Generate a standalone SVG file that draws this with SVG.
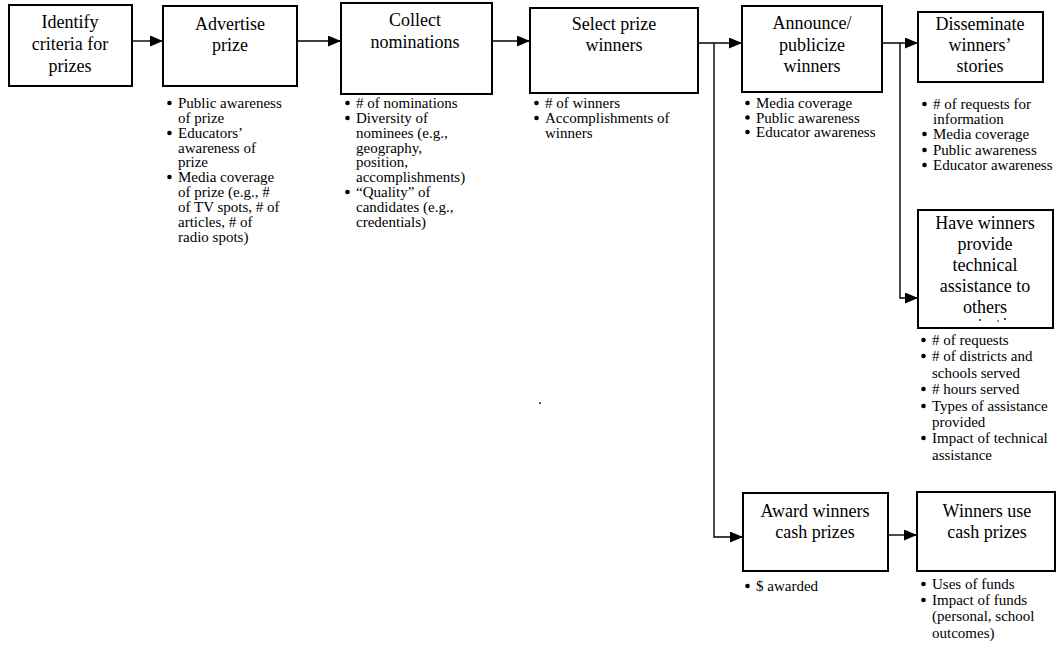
<svg xmlns="http://www.w3.org/2000/svg" width="1057" height="652" viewBox="0 0 1057 652">
<style>
.box{fill:#fff;stroke:#000;stroke-width:2}
.t{font-family:"Liberation Serif","Times New Roman",serif;font-size:18px;fill:#000;text-anchor:middle}
.b{font-family:"Liberation Serif","Times New Roman",serif;font-size:15px;fill:#000}
.c{fill:none;stroke:#000;stroke-width:1.4}
.dot{fill:#000}
</style>
<defs>
<marker id="ah" markerUnits="userSpaceOnUse" markerWidth="13" markerHeight="11" refX="13" refY="5.5" orient="auto">
<path d="M0,0 L13,5.5 L0,11 z" fill="#000"/>
</marker>
<circle id="bl" r="2.3" class="dot"/>
</defs>
<rect width="1057" height="652" fill="#fff"/>
<g id="connectors">
<path class="c" d="M132,41 H163" marker-end="url(#ah)"/>
<path class="c" d="M297,41 H341" marker-end="url(#ah)"/>
<path class="c" d="M492,41 H530" marker-end="url(#ah)"/>
<path class="c" d="M698,43 H742" marker-end="url(#ah)"/>
<path class="c" d="M714,43 V537 H743" marker-end="url(#ah)"/>
<path class="c" d="M882,43 H918" marker-end="url(#ah)"/>
<path class="c" d="M900,43 V298 H918" marker-end="url(#ah)"/>
<path class="c" d="M888,535 H917" marker-end="url(#ah)"/>
</g>
<g id="n1">
<rect class="box" x="9" y="5" width="123" height="81"/>
<text class="t" x="70" y="28">Identify</text>
<text class="t" x="70" y="50">criteria for</text>
<text class="t" x="70" y="72">prizes</text>
</g>
<g id="n2">
<rect class="box" x="163" y="6" width="134" height="80"/>
<text class="t" x="230" y="30">Advertise</text>
<text class="t" x="230" y="51">prize</text>
<use href="#bl" x="169.5" y="103"/><use href="#bl" x="169.5" y="133"/><use href="#bl" x="169.5" y="177"/>
<g class="b">
<text x="178" y="108">Public awareness</text>
<text x="178" y="123">of prize</text>
<text x="178" y="138">Educators’</text>
<text x="178" y="153">awareness of</text>
<text x="178" y="167">prize</text>
<text x="178" y="182">Media coverage</text>
<text x="178" y="197">of prize (e.g., #</text>
<text x="178" y="212">of TV spots, # of</text>
<text x="178" y="227">articles, # of</text>
<text x="178" y="242">radio spots)</text>
</g>
</g>
<g id="n3">
<rect class="box" x="341" y="3" width="151" height="91"/>
<text class="t" x="415" y="26">Collect</text>
<text class="t" x="415" y="48">nominations</text>
<use href="#bl" x="347.5" y="103"/><use href="#bl" x="347.5" y="118"/><use href="#bl" x="347.5" y="192"/>
<g class="b">
<text x="356" y="108"># of nominations</text>
<text x="356" y="123">Diversity of</text>
<text x="356" y="138">nominees (e.g.,</text>
<text x="356" y="153">geography,</text>
<text x="356" y="167">position,</text>
<text x="356" y="182">accomplishments)</text>
<text x="356" y="197">“Quality” of</text>
<text x="356" y="212">candidates (e.g.,</text>
<text x="356" y="227">credentials)</text>
</g>
</g>
<g id="n4">
<rect class="box" x="530" y="8" width="168" height="85"/>
<text class="t" x="614" y="30">Select prize</text>
<text class="t" x="614" y="51">winners</text>
<use href="#bl" x="536.5" y="103"/><use href="#bl" x="536.5" y="118"/>
<g class="b">
<text x="545" y="108"># of winners</text>
<text x="545" y="123">Accomplishments of</text>
<text x="545" y="138">winners</text>
</g>
<circle cx="540" cy="403" r="0.9" fill="#000"/>
</g>
<g id="n5">
<rect class="box" x="742" y="6" width="140" height="86"/>
<text class="t" x="812" y="29">Announce/</text>
<text class="t" x="812" y="51">publicize</text>
<text class="t" x="812" y="72">winners</text>
<use href="#bl" x="747.5" y="103"/><use href="#bl" x="747.5" y="117.5"/><use href="#bl" x="747.5" y="132"/>
<g class="b">
<text x="756" y="108">Media coverage</text>
<text x="756" y="122.5">Public awareness</text>
<text x="756" y="137">Educator awareness</text>
</g>
</g>
<g id="n6">
<rect class="box" x="918" y="12" width="125" height="70"/>
<text class="t" x="980" y="30">Disseminate</text>
<text class="t" x="980" y="51">winners’</text>
<text class="t" x="980" y="72">stories</text>
<use href="#bl" x="924.5" y="104"/><use href="#bl" x="924.5" y="134"/><use href="#bl" x="924.5" y="150"/><use href="#bl" x="924.5" y="165"/>
<g class="b">
<text x="933" y="109"># of requests for</text>
<text x="933" y="124">information</text>
<text x="933" y="139">Media coverage</text>
<text x="933" y="155">Public awareness</text>
<text x="933" y="170">Educator awareness</text>
</g>
</g>
<g id="n7">
<rect class="box" x="918" y="210" width="135" height="118"/>
<text class="t" x="985" y="229">Have winners</text>
<text class="t" x="985" y="250">provide</text>
<text class="t" x="985" y="271">technical</text>
<text class="t" x="985" y="292">assistance to</text>
<text class="t" x="985" y="313">others</text>
<circle cx="980" cy="320" r="0.9" fill="#000"/>
<circle cx="998" cy="321" r="0.8" fill="#000"/>
<circle cx="1005" cy="319" r="0.9" fill="#000"/>
<use href="#bl" x="923.5" y="340"/><use href="#bl" x="923.5" y="356"/><use href="#bl" x="923.5" y="389"/><use href="#bl" x="923.5" y="406"/><use href="#bl" x="923.5" y="438"/>
<g class="b">
<text x="932" y="345"># of requests</text>
<text x="932" y="361"># of districts and</text>
<text x="932" y="378">schools served</text>
<text x="932" y="394"># hours served</text>
<text x="932" y="411">Types of assistance</text>
<text x="932" y="427">provided</text>
<text x="932" y="443">Impact of technical</text>
<text x="932" y="460">assistance</text>
</g>
</g>
<g id="n8">
<rect class="box" x="743" y="493" width="145" height="78"/>
<text class="t" x="815" y="517">Award winners</text>
<text class="t" x="815" y="538">cash prizes</text>
<use href="#bl" x="747.5" y="586"/>
<g class="b">
<text x="756" y="591">$ awarded</text>
</g>
</g>
<g id="n9">
<rect class="box" x="917" y="492" width="138" height="79"/>
<text class="t" x="987" y="517">Winners use</text>
<text class="t" x="987" y="538">cash prizes</text>
<use href="#bl" x="923.5" y="584"/><use href="#bl" x="923.5" y="600"/>
<g class="b">
<text x="932" y="589">Uses of funds</text>
<text x="932" y="605">Impact of funds</text>
<text x="932" y="621">(personal, school</text>
<text x="932" y="638">outcomes)</text>
</g>
</g>
</svg>
